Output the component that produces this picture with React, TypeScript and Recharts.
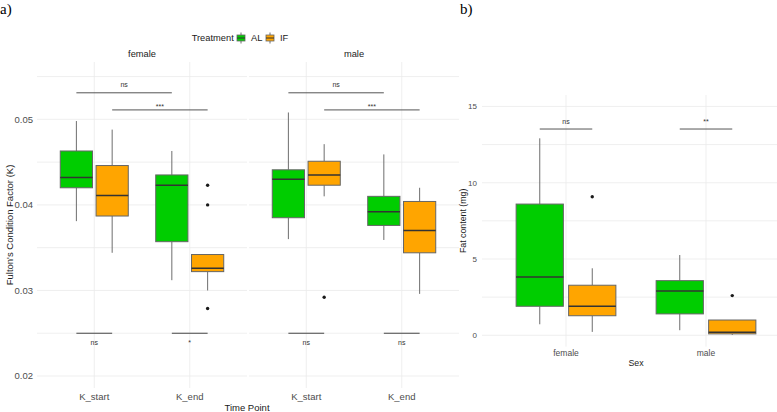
import React from "react";
import {
  ComposedChart,
  XAxis,
  YAxis,
  CartesianGrid,
  ReferenceArea,
  ReferenceLine,
  Scatter,
} from "recharts";

// ---- data ----------------------------------------------------------------
const timePoints = ["K_start", "K_end"];
const sexes = ["female", "male"];

// [lower whisker, q1, median, q3, upper whisker]
const femaleAL = [
  [0.0381, 0.042, 0.0432, 0.0463, 0.0498],
  [0.0312, 0.0357, 0.0423, 0.0435, 0.0463],
];
const femaleIF = [
  [0.0344, 0.0387, 0.0411, 0.0446, 0.0488],
  [0.03, 0.0322, 0.0326, 0.0342, 0.0342],
];
const maleAL = [
  [0.036, 0.0385, 0.043, 0.0441, 0.0508],
  [0.0359, 0.0376, 0.0392, 0.041, 0.0459],
];
const maleIF = [
  [0.041, 0.0423, 0.0435, 0.0451, 0.0471],
  [0.0296, 0.0344, 0.037, 0.0404, 0.042],
];
const femaleOutliers = [
  { time: 1, group: "IF", value: 0.0423 },
  { time: 1, group: "IF", value: 0.04 },
  { time: 1, group: "IF", value: 0.0279 },
];
const maleOutliers = [{ time: 0, group: "IF", value: 0.0292 }];

// significance between time points (per treatment) and between treatments (per time point)
const timeSig = [
  { group: "AL", label: "ns", y: 0.0531 },
  { group: "IF", label: "***", y: 0.0511 },
];
const femaleTreatSig = ["ns", "*"];
const maleTreatSig = ["ns", "ns"];
const treatSigY = 0.025;

const fatAL = [
  [0.72, 1.9, 3.82, 8.6, 12.91],
  [0.33, 1.4, 2.9, 3.58, 5.26],
];
const fatIF = [
  [0.22, 1.28, 1.9, 3.28, 4.39],
  [0.02, 0.09, 0.2, 1.0, 1.0],
];
const fatOutliers = [
  { time: 0, group: "IF", value: 9.08 },
  { time: 1, group: "IF", value: 2.6 },
];
const fatSig = ["ns", "**"];
const fatSigY = 13.52;

// ---- styling -------------------------------------------------------------
const FONT = "'Liberation Sans', Arial, sans-serif";
const SERIF = "'Liberation Serif', 'Times New Roman', serif";
const COLORS: Record<string, string> = { AL: "#00CD00", IF: "#FFA500" };
const GRID = "#EBEBEB";
const DODGE = 0.1875;
const HALF = 0.16875;

const offsetOf = (g: string) => (g === "AL" ? -DODGE : DODGE);

// box + whiskers + median, positioned from the ReferenceArea rect
function BoxShape(props: any) {
  const { x, y, width, height, stats, color } = props;
  const [lo, q1, med, q3, hi] = stats;
  const px = (v: number) => y + ((q3 - v) / (q3 - q1)) * height;
  const cx = x + width / 2;
  return (
    <g>
      {hi > q3 && <line x1={cx} x2={cx} y1={px(hi)} y2={y} stroke="#6e6e6e" strokeWidth={1} />}
      {lo < q1 && <line x1={cx} x2={cx} y1={y + height} y2={px(lo)} stroke="#6e6e6e" strokeWidth={1} />}
      <rect x={x} y={y} width={width} height={height} fill={color} stroke="#666" strokeWidth={1} />
      <line x1={x} x2={x + width} y1={px(med)} y2={px(med)} stroke="#333" strokeWidth={1.6} />
    </g>
  );
}

function boxes(al: number[][], iff: number[][]) {
  const out: React.ReactNode[] = [];
  [al, iff].forEach((series, gi) => {
    const g = gi === 0 ? "AL" : "IF";
    series.forEach((s, i) => {
      const c = i + 1 + offsetOf(g);
      out.push(
        <ReferenceArea
          key={`${g}-${i}`}
          x1={c - HALF}
          x2={c + HALF}
          y1={s[1]}
          y2={s[3]}
          ifOverflow="visible"
          shape={(p: any) => <BoxShape {...p} stats={s} color={COLORS[g]} />}
        />
      );
    });
  });
  return out;
}

function outlierData(list: { time: number; group: string; value: number }[]) {
  return list.map((o) => ({ x: o.time + 1 + offsetOf(o.group), y: o.value }));
}

const dot = (p: any) => <circle cx={p.cx} cy={p.cy} r={1.7} fill="#1a1a1a" />;

function Facet({
  al,
  iff,
  outliers,
  treatSig,
  width,
  showY,
}: {
  al: number[][];
  iff: number[][];
  outliers: { time: number; group: string; value: number }[];
  treatSig: string[];
  width: number;
  showY: boolean;
}) {
  return (
    <ComposedChart width={width} height={412} margin={{ top: 62, right: 0, bottom: 0, left: 0 }}>
      <CartesianGrid
        stroke={GRID}
        strokeWidth={0.8}
        horizontalValues={[0.02, 0.025, 0.03, 0.035, 0.04, 0.045, 0.05, 0.055]}
        verticalValues={[1, 2]}
      />
      <XAxis
        type="number"
        dataKey="x"
        domain={[0.4, 2.6]}
        ticks={[1, 2]}
        allowDataOverflow
        tickFormatter={(v: number) => timePoints[v - 1]}
        axisLine={false}
        tickLine={false}
        tickSize={3}
        tickMargin={2}
        height={24}
        tick={{ fill: "#4D4D4D", fontSize: 9.5, fontFamily: FONT }}
      />
      <YAxis
        type="number"
        dataKey="y"
        domain={[0.0186, 0.0567]}
        ticks={[0.02, 0.03, 0.04, 0.05]}
        allowDataOverflow
        hide={!showY}
        width={37}
        tickFormatter={(v: number) => v.toFixed(2)}
        axisLine={false}
        tickLine={false}
        tickSize={2}
        tickMargin={2}
        tick={{ fill: "#4D4D4D", fontSize: 9.5, fontFamily: FONT }}
        label={{
          value: "Fulton's Condition Factor (K)",
          angle: -90,
          position: "insideLeft",
          offset: 10,
          style: { textAnchor: "middle", fontSize: 9.5, fontFamily: FONT, fill: "#1a1a1a" },
        }}
      />
      {timeSig.map((s) => (
        <ReferenceLine
          key={s.group}
          ifOverflow="visible"
          segment={[
            { x: 1 + offsetOf(s.group), y: s.y },
            { x: 2 + offsetOf(s.group), y: s.y },
          ]}
          stroke="#555"
          strokeWidth={1}
          label={{
            value: s.label,
            position: "top",
            offset: s.label === "ns" ? 6 : 1,
            fontSize: 7,
            fill: "#333",
            fontFamily: FONT,
          }}
        />
      ))}
      {treatSig.map((lab, i) => (
        <ReferenceLine
          key={`t${i}`}
          ifOverflow="visible"
          segment={[
            { x: i + 1 - DODGE, y: treatSigY },
            { x: i + 1 + DODGE, y: treatSigY },
          ]}
          stroke="#444"
          strokeWidth={1}
          label={{ value: lab, position: "bottom", offset: 7, fontSize: 7, fill: "#333", fontFamily: FONT }}
        />
      ))}
      {boxes(al, iff)}
      <Scatter data={outlierData(outliers)} dataKey="y" shape={dot} isAnimationActive={false} />
    </ComposedChart>
  );
}

function FatPanel() {
  return (
    <ComposedChart width={350} height={412} margin={{ top: 95, right: 0, bottom: 0, left: 0 }}>
      <CartesianGrid
        stroke={GRID}
        strokeWidth={0.8}
        horizontalValues={[0, 2.5, 5, 7.5, 10, 12.5, 15]}
        verticalValues={[1, 2]}
      />
      <XAxis
        type="number"
        dataKey="x"
        domain={[0.4, 2.6]}
        ticks={[1, 2]}
        allowDataOverflow
        tickFormatter={(v: number) => sexes[v - 1]}
        axisLine={false}
        tickLine={false}
        tickSize={1}
        tickMargin={2}
        height={65.3}
        tick={{ fill: "#4D4D4D", fontSize: 8.5, fontFamily: FONT }}
        label={{
          value: "Sex",
          position: "insideTop",
          offset: 13,
          style: { fontSize: 8.8, fontFamily: FONT, fill: "#1a1a1a" },
        }}
      />
      <YAxis
        type="number"
        dataKey="y"
        domain={[-0.75, 15.75]}
        ticks={[0, 5, 10, 15]}
        allowDataOverflow
        width={42}
        axisLine={false}
        tickLine={false}
        tickSize={3}
        tickMargin={2}
        tick={{ fill: "#4D4D4D", fontSize: 8, fontFamily: FONT }}
        label={{
          value: "Fat content (mg)",
          angle: -90,
          position: "insideLeft",
          offset: 23,
          style: { textAnchor: "middle", fontSize: 8.8, fontFamily: FONT, fill: "#1a1a1a" },
        }}
      />
      {fatSig.map((lab, i) => (
        <ReferenceLine
          key={`f${i}`}
          ifOverflow="visible"
          segment={[
            { x: i + 1 - DODGE, y: fatSigY },
            { x: i + 1 + DODGE, y: fatSigY },
          ]}
          stroke="#555"
          strokeWidth={1}
          label={{ value: lab, position: "top", offset: 5, fontSize: 7, fill: "#333", fontFamily: FONT }}
        />
      ))}
      {boxes(fatAL, fatIF)}
      <Scatter data={outlierData(fatOutliers)} dataKey="y" shape={dot} isAnimationActive={false} />
    </ComposedChart>
  );
}

function LegendKey({ x, color }: { x: number; color: string }) {
  return (
    <g>
      <line x1={x + 4} x2={x + 4} y1={32.5} y2={43.5} stroke="#6e6e6e" strokeWidth={1} />
      <rect x={x} y={35} width={8} height={6} fill={color} stroke="#666" strokeWidth={0.8} />
      <line x1={x} x2={x + 8} y1={38} y2={38} stroke="#333" strokeWidth={1} />
    </g>
  );
}

export default function App() {
  return (
    <div
      style={{
        position: "fixed",
        left: 0,
        top: 0,
        width: 777,
        height: 412,
        overflow: "hidden",
        background: "#fff",
      }}
    >
      <div style={{ position: "absolute", left: 0, top: 0 }}>
        <Facet al={femaleAL} iff={femaleIF} outliers={femaleOutliers} treatSig={femaleTreatSig} width={247} showY />
      </div>
      <div style={{ position: "absolute", left: 249, top: 0 }}>
        <Facet al={maleAL} iff={maleIF} outliers={maleOutliers} treatSig={maleTreatSig} width={210} showY={false} />
      </div>
      <div style={{ position: "absolute", left: 440, top: 0 }}>
        <FatPanel />
      </div>
      <svg
        width={777}
        height={412}
        style={{ position: "absolute", left: 0, top: 0, pointerEvents: "none" }}
      >
        <text x={0} y={13.5} fontSize={15} fontFamily={SERIF} fill="#000">
          a)
        </text>
        <text x={460} y={13.5} fontSize={15} fontFamily={SERIF} fill="#000">
          b)
        </text>
        <g fontFamily={FONT} fontSize={9.3} fill="#1a1a1a">
          <text x={191.7} y={41.3}>Treatment</text>
          <text x={251} y={41.3}>AL</text>
          <text x={280} y={41.3}>IF</text>
          <text x={142} y={57} textAnchor="middle">female</text>
          <text x={354} y={57} textAnchor="middle">male</text>
          <text x={247} y={411} textAnchor="middle" fontSize={9.5}>Time Point</text>
        </g>
        <LegendKey x={237} color={COLORS.AL} />
        <LegendKey x={266} color={COLORS.IF} />
      </svg>
    </div>
  );
}
